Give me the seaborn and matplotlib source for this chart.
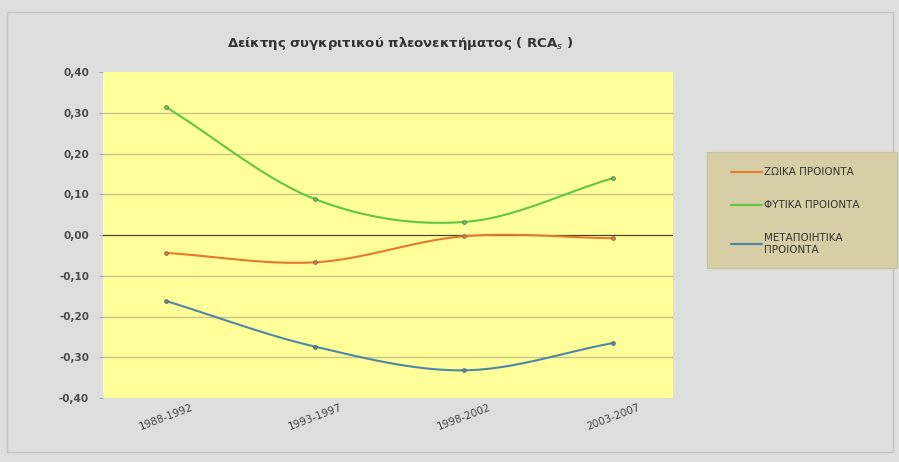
import numpy as np
import pandas as pd
import matplotlib
matplotlib.use("Agg")
import matplotlib.pyplot as plt
from matplotlib.patches import Rectangle
from matplotlib.lines import Line2D
import seaborn as sns

periods = ["1988-1992", "1993-1997", "1998-2002", "2003-2007"]
zoika = [-0.044, -0.067, -0.003, -0.008]
fytika = [0.314, 0.088, 0.032, 0.140]
metapoiitika = [-0.162, -0.274, -0.332, -0.265]
series_names = ["ΖΩΙΚΑ ΠΡΟΙΟΝΤΑ", "ΦΥΤΙΚΑ ΠΡΟΙΟΝΤΑ", "ΜΕΤΑΠΟΙΗΤΙΚΑ\nΠΡΟΙΟΝΤΑ"]
yticks = [0.40, 0.30, 0.20, 0.10, 0.00, -0.10, -0.20, -0.30, -0.40]
title = "Δείκτης συγκριτικού πλεονεκτήματος ( RCA$_s$ )"

colors = ["#e8782f", "#62c544", "#4f86a8"]

sns.set_theme(style="white")
plt.rcParams["font.family"] = ["DejaVu Sans"]


def smooth(xs, ys, n=40):
    # Catmull-Rom rendering of a smoothed line through the data points
    xs = np.asarray(xs, float)
    ys = np.asarray(ys, float)
    px = np.concatenate([[2 * xs[0] - xs[1]], xs, [2 * xs[-1] - xs[-2]]])
    py = np.concatenate([[2 * ys[0] - ys[1]], ys, [2 * ys[-1] - ys[-2]]])
    outx, outy = [], []
    for i in range(1, len(px) - 2):
        t = np.linspace(0, 1, n, endpoint=(i == len(px) - 3))
        for arr, out in ((px, outx), (py, outy)):
            p0, p1, p2, p3 = arr[i - 1], arr[i], arr[i + 1], arr[i + 2]
            out.extend(0.5 * ((2 * p1) + (-p0 + p2) * t
                              + (2 * p0 - 5 * p1 + 4 * p2 - p3) * t ** 2
                              + (-p0 + 3 * p1 - 3 * p2 + p3) * t ** 3))
    return np.array(outx), np.array(outy)


fig = plt.figure(figsize=(8.99, 4.62), dpi=100)
fig.patch.set_facecolor("#dedede")
fig.patches.append(Rectangle((7 / 899, 1 - 452 / 462), 886 / 899, 440 / 462,
                             transform=fig.transFigure, facecolor="#dedede",
                             edgecolor="#c4c4c4", lw=1.0, zorder=-5))

left_px = 103
ax = fig.add_axes([left_px / 899, 1 - 398 / 462, (673 - left_px) / 899, 326 / 462])
ax.set_facecolor("#ffff99")
ax.set_zorder(2)

xidx = np.arange(len(periods))
for name, vals, c in zip(series_names, [zoika, fytika, metapoiitika], colors):
    sx, sy = smooth(xidx, vals)
    sns.lineplot(x=sx, y=sy, ax=ax, color=c, lw=1.5, sort=False, estimator=None)
    sns.scatterplot(x=xidx, y=vals, ax=ax, color=c, s=8, edgecolor="#555555",
                    linewidth=0.4, zorder=5)

ax.set_xlim(-(166 - left_px) / 149, 3.40)
ax.set_ylim(-0.40, 0.40)
ax.set_yticks(yticks)
ax.set_yticklabels([f"{v:.2f}".replace(".", ",") for v in yticks],
                   fontsize=7.5, fontweight="bold", color="#4a4a4a")
for v in yticks:
    if v == 0:
        ax.axhline(0, color="#4a4a2a", lw=0.9, zorder=1)
    elif abs(v) < 0.4:
        ax.axhline(v, color="#c9c48c", lw=1.0, zorder=1)

ax.set_xticks(xidx)
ax.set_xticklabels(periods, rotation=21, fontsize=7.5, color="#444444")
ax.tick_params(axis="x", length=0, pad=3)
ax.tick_params(axis="y", length=3, width=0.6, color="#999999", pad=7, left=True)
for s in ax.spines.values():
    s.set_visible(False)
ax.set_xlabel("")
ax.set_ylabel("")

fig.text(400 / 899, 1 - 43 / 462, title, ha="center", va="center",
         fontsize=9.5, fontweight="bold", color="#333333")

# legend box
fig.patches.append(Rectangle((707 / 899, 1 - 268 / 462), 190 / 899, 116 / 462,
                             transform=fig.transFigure, facecolor="#d6cea4",
                             edgecolor="#c9c196", lw=0.8, zorder=-1))
handles = [Line2D([0], [0], color=c, lw=1.5) for c in colors]
leg = fig.legend(handles, series_names, loc="upper left",
                 bbox_to_anchor=(722 / 899, 1 - 158 / 462), frameon=False,
                 fontsize=7.5, labelspacing=2.2, handlelength=2.9,
                 handletextpad=0.2, labelcolor="#333333")

fig.savefig("out.png", dpi=100, facecolor=fig.get_facecolor())
